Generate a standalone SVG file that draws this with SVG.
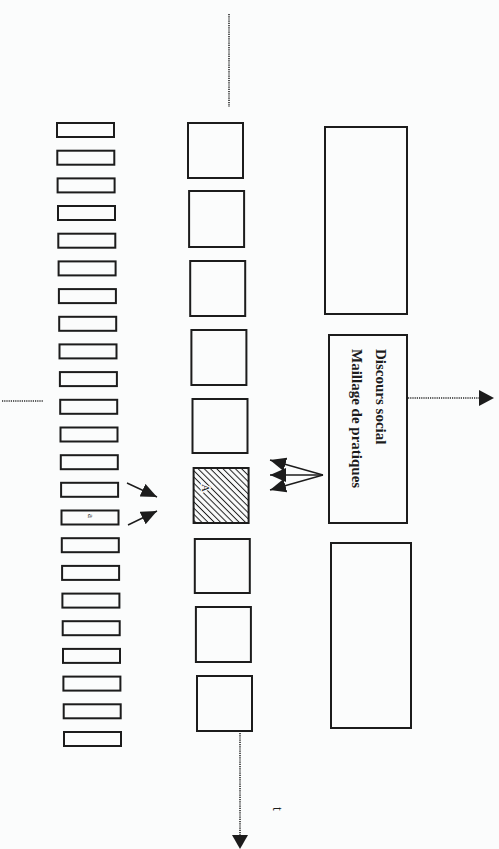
<svg xmlns="http://www.w3.org/2000/svg" width="499" height="849" viewBox="0 0 499 849">
  <style>
    .box { fill: none; stroke: #1c1c1c; stroke-width: 2; }
    .dot { fill: none; stroke: #2a2a2a; stroke-width: 1.6; stroke-dasharray: 1.2 1; }
    .arr { fill: none; stroke: #1c1c1c; stroke-width: 1.4; }
    .head { fill: #1c1c1c; }
    .lbl { font-family: "Liberation Serif", "Times New Roman", serif; fill: #1c1c1c; }
  </style>
  <defs>
    <pattern id="hatch" patternUnits="userSpaceOnUse" width="4.4" height="4.4" patternTransform="rotate(45)">
      <line x1="0" y1="2.2" x2="4.4" y2="2.2" stroke="#1c1c1c" stroke-width="1"/>
    </pattern>
    <marker id="tip" viewBox="0 0 16 14" refX="16" refY="7" markerWidth="16" markerHeight="14" markerUnits="userSpaceOnUse" orient="auto">
      <path d="M0,0 L16,7 L0,14 z" class="head"/>
    </marker>
  </defs>

  <rect x="0" y="0" width="499" height="849" fill="#fbfcfc"/>

  <!-- column of narrow bars -->
  <g id="bars">
    <rect class="box" x="57.0" y="123.0" width="57" height="14"/>
    <rect class="box" x="57.3" y="150.7" width="57" height="14"/>
    <rect class="box" x="57.6" y="178.4" width="57" height="14"/>
    <rect class="box" x="58.0" y="206.0" width="57" height="14"/>
    <rect class="box" x="58.3" y="233.7" width="57" height="14"/>
    <rect class="box" x="58.6" y="261.4" width="57" height="14"/>
    <rect class="box" x="58.9" y="289.1" width="57" height="14"/>
    <rect class="box" x="59.2" y="316.8" width="57" height="14"/>
    <rect class="box" x="59.5" y="344.4" width="57" height="14"/>
    <rect class="box" x="59.9" y="372.1" width="57" height="14"/>
    <rect class="box" x="60.2" y="399.8" width="57" height="14"/>
    <rect class="box" x="60.5" y="427.5" width="57" height="14"/>
    <rect class="box" x="60.8" y="455.2" width="57" height="14"/>
    <rect class="box" x="61.1" y="482.8" width="57" height="14"/>
  </g>
  <g id="bar-a">
    <rect class="box" x="61.5" y="510.5" width="57" height="14"/>
    <text class="lbl" font-size="9" transform="translate(88,514) rotate(90)">a</text>
  </g>
  <g id="bars-after">
    <rect class="box" x="61.8" y="538.2" width="57" height="14"/>
    <rect class="box" x="62.1" y="565.9" width="57" height="14"/>
    <rect class="box" x="62.4" y="593.6" width="57" height="14"/>
    <rect class="box" x="62.7" y="621.2" width="57" height="14"/>
    <rect class="box" x="63.0" y="648.9" width="57" height="14"/>
    <rect class="box" x="63.4" y="676.6" width="57" height="14"/>
    <rect class="box" x="63.7" y="704.3" width="57" height="14"/>
    <rect class="box" x="64.0" y="732.0" width="57" height="14"/>
  </g>

  <!-- column of squares -->
  <g id="squares">
    <rect class="box" x="188.0" y="123" width="55" height="55"/>
    <rect class="box" x="189.1" y="191" width="55" height="56"/>
    <rect class="box" x="190.2" y="261" width="55" height="55"/>
    <rect class="box" x="191.4" y="330" width="55" height="55"/>
    <rect class="box" x="192.5" y="399" width="55" height="54"/>
  </g>
  <g id="square-A">
    <rect x="193.6" y="468" width="55" height="55" fill="url(#hatch)" stroke="#1c1c1c" stroke-width="2"/>
    <text class="lbl" font-size="11" fill="#fbfcfc" stroke="#fbfcfc" stroke-width="2.5" transform="translate(202,484) rotate(90)">A</text>
    <text class="lbl" font-size="11" transform="translate(202,484) rotate(90)">A</text>
  </g>
  <g id="squares-after">
    <rect class="box" x="194.8" y="539" width="55" height="54"/>
    <rect class="box" x="195.9" y="607" width="55" height="55"/>
    <rect class="box" x="197.0" y="676" width="55" height="55"/>
  </g>

  <!-- large frames -->
  <g id="frame-top">
    <rect class="box" x="325" y="127" width="82" height="187"/>
  </g>
  <g id="frame-middle">
    <rect class="box" x="329" y="335" width="78" height="188"/>
    <text class="lbl" font-size="15" font-weight="bold" transform="translate(376,349) rotate(90)">Discours social</text>
    <text class="lbl" font-size="15" font-weight="bold" transform="translate(352,349) rotate(90)">Maillage de pratiques</text>
  </g>
  <g id="frame-bottom">
    <rect class="box" x="331" y="543" width="80" height="185"/>
  </g>

  <!-- connectors -->
  <g id="connectors">
    <line class="dot" x1="229" y1="14" x2="229" y2="107"/>
    <line class="dot" x1="2" y1="401" x2="43" y2="401"/>
    <line class="dot" x1="408" y1="398" x2="481" y2="398"/>
    <polygon class="head" points="479,390 479,406 494,398"/>
    <line class="dot" x1="240" y1="733" x2="240" y2="836"/>
    <polygon class="head" points="232,835 248,835 240,849"/>
    <text class="lbl" font-size="14" transform="translate(273,807) rotate(90)">t</text>

    <line class="arr" x1="323" y1="475" x2="270" y2="460" marker-end="url(#tip)"/>
    <line class="arr" x1="323" y1="475" x2="270" y2="475" marker-end="url(#tip)"/>
    <line class="arr" x1="323" y1="475" x2="270" y2="490" marker-end="url(#tip)"/>

    <line class="arr" x1="127" y1="483" x2="157" y2="497" marker-end="url(#tip)"/>
    <line class="arr" x1="128" y1="525" x2="157" y2="511" marker-end="url(#tip)"/>
  </g>
</svg>
